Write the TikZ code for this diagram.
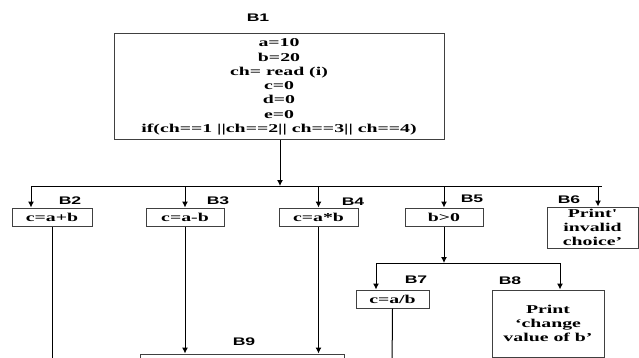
\documentclass[tikz,border=0pt]{standalone}
\usepackage{fontspec}
\usetikzlibrary{arrows.meta}
\newfontfamily\bxfont[FakeStretch=1.65]{Liberation Serif}
\newfontfamily\lblfont[FakeStretch=1.6]{Liberation Sans}
\tikzset{
  blk/.style={draw=black!75, line width=1pt, inner sep=0pt, align=center,
    font=\bxfont\bfseries\fontsize{12}{14.3}\selectfont},
  lbl/.style={inner sep=0pt, font=\lblfont\bfseries\fontsize{11}{13}\selectfont},
  ln/.style={draw=black, line width=1pt},
  arr/.style={ln, -{Latex[length=6pt,width=6pt]}}
}
\begin{document}
\begin{tikzpicture}[x=1pt,y=-1pt]
\useasboundingbox (0,0) rectangle (639,358);
\clip (0,0) rectangle (639,358);
\fill[white] (0,0) rectangle (639,358);

% blocks
\node[blk, minimum width=330pt, minimum height=106pt] (B1) at (279,87)
  {a=10\\b=20\\ch= read (i)\\c=0\\d=0\\e=0\\if(ch==1 ||ch==2|| ch==3|| ch==4)};
\node[blk, minimum width=80pt, minimum height=18pt] (B2) at (52,217) {c=a+b};
\node[blk, minimum width=78pt, minimum height=18pt] (B3) at (185,217) {c=a-b};
\node[blk, minimum width=79pt, minimum height=18pt] (B4) at (318.5,217) {c=a*b};
\node[blk, minimum width=78pt, minimum height=18pt] (B5) at (444,217) {b>0};
\node[blk, minimum width=91pt, minimum height=41pt] (B6) at (592.5,227.5) {Print'\\invalid\\choice’};
\node[blk, minimum width=73pt, minimum height=18pt] (B7) at (392.5,299) {c=a/b};
\node[blk, minimum width=112pt, minimum height=67pt] (B8) at (548,323.5) {Print\\‘change\\value of b’};
\node[blk, minimum width=204pt, minimum height=40pt] (B9) at (242,374) {};

% labels
\node[lbl] (lB1) at (258,18) {B1};
\node[lbl] (lB2) at (70,201) {B2};
\node[lbl] (lB3) at (218,201) {B3};
\node[lbl] (lB4) at (353,202) {B4};
\node[lbl] (lB5) at (472,199) {B5};
\node[lbl] (lB6) at (569,200) {B6};
\node[lbl] (lB7) at (416,280) {B7};
\node[lbl] (lB8) at (510,281) {B8};
\node[lbl] (lB9) at (244,342) {B9};

% junctions
\coordinate (J1) at (280,186);
\coordinate (H1L) at (31,186);
\coordinate (H1R) at (602,186);
\coordinate (J6) at (598,186);
\coordinate (J2) at (444,263);
\coordinate (H2L) at (376,263);
\coordinate (H2R) at (560,263);
\coordinate (E2) at (52,370);
\coordinate (E7) at (392,370);

% connectors
\draw[arr] (B1.south -| J1) -- (J1);
\draw[ln] (H1L) -- (H1R);
\draw[arr] (H1L) -- (H1L |- B2.north);
\draw[arr] (J1 -| B3) -- (B3.north);
\draw[arr] (J1 -| B4) -- (B4.north);
\draw[arr] (J1 -| B5) -- (B5.north);
\draw[arr] (J6) -- (J6 |- B6.north);
\draw[ln] (B2.south) -- (E2);
\draw[arr] (B3.south) -- (B3.south |- B9.north);
\draw[arr] (B4.south) -- (B4.south |- B9.north);
\draw[arr] (B5.south) -- (J2);
\draw[ln] (H2L) -- (H2R);
\draw[arr] (H2L) -- (H2L |- B7.north);
\draw[arr] (H2R) -- (H2R |- B8.north);
\draw[ln] (B7.south) -- (E7);
\end{tikzpicture}
\end{document}
